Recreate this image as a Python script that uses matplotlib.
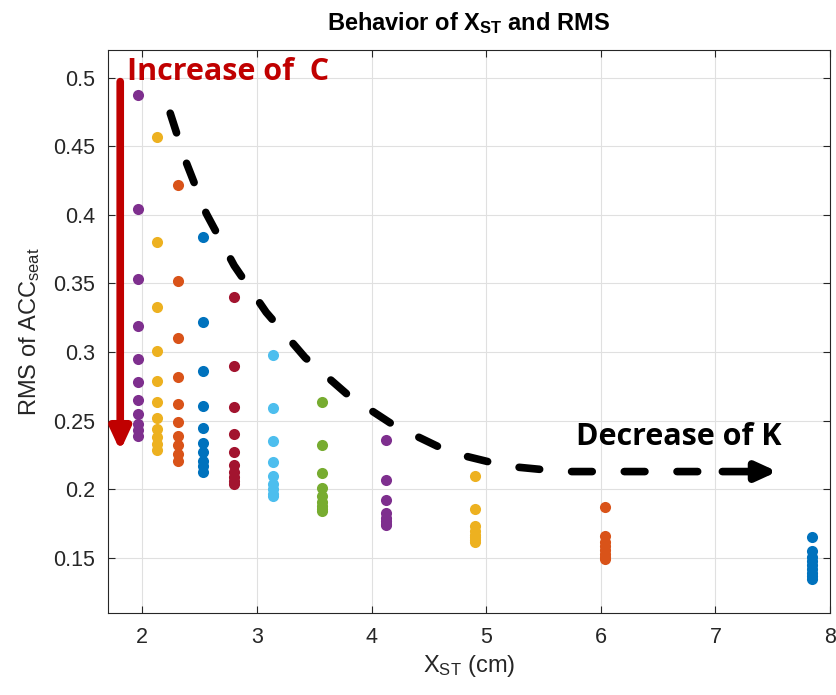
import matplotlib
matplotlib.use('Agg')
import matplotlib.pyplot as plt

plt.rcParams['font.family'] = ['Liberation Sans', 'DejaVu Sans']
plt.rcParams['mathtext.fontset'] = 'custom'
plt.rcParams['mathtext.rm'] = 'Liberation Sans'
plt.rcParams['mathtext.it'] = 'Liberation Sans'
plt.rcParams['mathtext.bf'] = 'Liberation Sans:bold'

# X_ST of each stiffness value (cm), plotted from the stiffest to the softest
x_st = [1.965, 2.13, 2.31, 2.53, 2.80, 3.14, 3.57, 4.13, 4.90, 6.04, 7.84]

# RMS of seat acceleration for each damping value, one list per X_ST
rms_values = [
    [0.487, 0.404, 0.353, 0.319, 0.295, 0.278, 0.265, 0.255, 0.248, 0.243, 0.239],
    [0.457, 0.380, 0.333, 0.301, 0.279, 0.264, 0.252, 0.244, 0.238, 0.233, 0.229],
    [0.422, 0.352, 0.310, 0.282, 0.262, 0.249, 0.239, 0.232, 0.226, 0.221],
    [0.384, 0.322, 0.286, 0.261, 0.245, 0.234, 0.227, 0.221, 0.217, 0.213],
    [0.340, 0.290, 0.260, 0.240, 0.227, 0.218, 0.213, 0.209, 0.206, 0.204],
    [0.298, 0.259, 0.235, 0.220, 0.210, 0.204, 0.200, 0.197, 0.195],
    [0.264, 0.232, 0.212, 0.201, 0.195, 0.191, 0.188, 0.186, 0.184],
    [0.236, 0.207, 0.192, 0.183, 0.179, 0.177, 0.175, 0.174],
    [0.210, 0.186, 0.173, 0.170, 0.167, 0.165, 0.163, 0.162],
    [0.187, 0.166, 0.162, 0.159, 0.156, 0.153, 0.151, 0.149],
    [0.165, 0.155, 0.151, 0.148, 0.145, 0.142, 0.139, 0.137, 0.135],
]

# MATLAB colour order, used from the last column backwards
colors = ['#7E2F8E', '#EDB120', '#D95319', '#0072BD', '#A2142F', '#4DBEEE',
          '#77AC30', '#7E2F8E', '#EDB120', '#D95319', '#0072BD']

# hand drawn trend line (decrease of K)
trend_x = [2.244, 2.375, 2.558, 2.802, 3.081, 3.421, 3.805, 4.189, 4.685, 5.174, 5.670, 7.06]
trend_y = [0.474, 0.440, 0.401, 0.363, 0.329, 0.296, 0.268, 0.247, 0.227, 0.217, 0.213, 0.213]
arrow_k = (7.06, 7.54, 0.213)
# red arrow (increase of C)
arrow_c = (1.808, 0.497, 0.228)

fig = plt.figure(figsize=(8.36, 6.95), dpi=100)
ax = fig.add_axes([0.129, 0.118, 0.864, 0.810])

for xs, ys, c in zip(x_st, rms_values, colors):
    ax.plot([xs] * len(ys), ys, 'o', color=c, markersize=8, markeredgewidth=0, zorder=3)

# dashed trend curve
ax.plot(trend_x, trend_y, color='black', linewidth=5.5, linestyle=(0, (2.7, 4.2)),
        dash_capstyle='round', zorder=4)
ax.annotate('', xy=(arrow_k[1], arrow_k[2]), xytext=(arrow_k[0], arrow_k[2]),
            arrowprops=dict(arrowstyle='-|>,head_length=1.2,head_width=0.55',
                            color='black', linewidth=5.5, shrinkA=0, shrinkB=0),
            zorder=4)
ax.text(5.78, 0.2385, 'Decrease of K', fontsize=22, fontweight='bold',
        family=['Open Sans', 'DejaVu Sans'], color='black', va='center', zorder=5)

# red arrow for damping
ax.annotate('', xy=(arrow_c[0], arrow_c[2]), xytext=(arrow_c[0], arrow_c[1]),
            arrowprops=dict(arrowstyle='-|>,head_length=1.3,head_width=0.6',
                            color='#C00000', linewidth=5.5, shrinkA=0, shrinkB=0),
            zorder=5)
ax.text(1.87, 0.504, 'Increase of  C', fontsize=22, fontweight='bold',
        family=['Open Sans', 'DejaVu Sans'], color='#C00000', va='center', zorder=5)

ax.set_xlim(1.7, 8.0)
ax.set_ylim(0.11, 0.52)
ax.set_xticks([2, 3, 4, 5, 6, 7, 8])
ax.set_yticks([0.15, 0.2, 0.25, 0.3, 0.35, 0.4, 0.45, 0.5])
ax.set_yticklabels(['0.15', '0.2', '0.25', '0.3', '0.35', '0.4', '0.45', '0.5'])
ax.tick_params(direction='in', top=True, right=True, labelsize=15.5, length=5,
               colors='#262626')
ax.tick_params(axis='x', pad=10)
ax.tick_params(axis='y', pad=9)
ax.grid(True, color='#e0e0e0', linewidth=0.8)
ax.set_axisbelow(True)
for s in ax.spines.values():
    s.set_color('#262626')
    s.set_linewidth(0.8)

ax.set_title('Behavior of X$_{\\mathbf{ST}}$ and RMS', fontsize=17, fontweight='bold', pad=14)
ax.set_xlabel('X$_{ST}$ (cm)', fontsize=17, color='#262626', labelpad=4)
ax.set_ylabel('RMS of ACC$_{seat}$', fontsize=17, color='#262626', labelpad=8)

plt.savefig('out.png', dpi=100)
